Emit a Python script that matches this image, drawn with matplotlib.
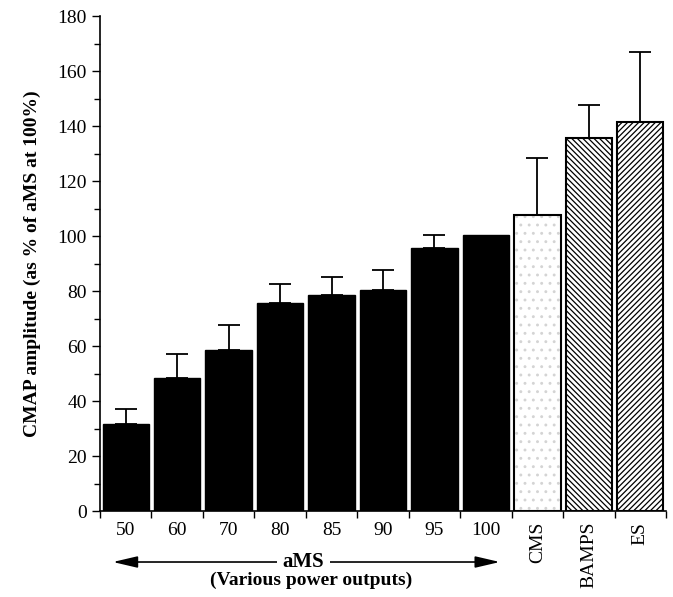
import numpy as np
import matplotlib
matplotlib.use("Agg")
import matplotlib.pyplot as plt

plt.rcParams['font.family'] = ['Liberation Serif', 'DejaVu Serif']
plt.rcParams['hatch.linewidth'] = 0.9

# data
labels = ["50", "60", "70", "80", "85", "90", "95", "100", "CMS", "BAMPS", "ES"]
values = [31.5, 48.5, 58.5, 75.5, 78.5, 80.5, 95.5, 100.5, 107.5, 135.5, 141.5]
errors = [5.5, 8.5, 9.0, 7.0, 6.5, 7.0, 5.0, 0.0, 21.0, 12.0, 25.5]

fig = plt.figure(figsize=(6.73, 5.97), dpi=100)
ax = fig.add_axes([0.1486, 0.144, 0.841, 0.829])

x = np.arange(len(values)) + 0.5
w = 0.9

# aMS bars - solid black
ax.bar(x[:8], values[:8], width=w, color="black", edgecolor="black", linewidth=1.0)
# CMS - light stipple
ax.bar(x[8], values[8], width=w, color="white", edgecolor="#d4d4d4", hatch="..", linewidth=0)
ax.bar(x[8], values[8], width=w, fill=False, edgecolor="black", linewidth=1.5)
# BAMPS / ES - hatched
ax.bar(x[9], values[9], width=w, color="white", edgecolor="black", hatch="\\\\\\\\\\\\", linewidth=1.5)
ax.bar(x[10], values[10], width=w, color="white", edgecolor="black", hatch="//////", linewidth=1.5)

# upward-only error bars
for xi, v, e in zip(x, values, errors):
    if e > 0:
        ax.errorbar(xi, v, yerr=[[0], [e]], fmt="none", ecolor="black",
                    elinewidth=1.3, capsize=8, capthick=1.3)

ax.set_xlim(0, 11)
ax.set_ylim(0, 180)
ax.set_yticks(np.arange(0, 181, 20))
ax.set_yticks(np.arange(10, 180, 20), minor=True)
ax.set_xticks(np.arange(0, 12))
ax.set_xticklabels([])
ax.tick_params(axis="y", which="major", length=6, width=1, labelsize=14, direction="out")
ax.tick_params(axis="y", which="minor", length=4, width=1, direction="out")
ax.tick_params(axis="x", which="major", length=5, width=1, direction="out")
for s in ["top", "right"]:
    ax.spines[s].set_visible(False)
ax.spines["left"].set_linewidth(1.2)
ax.spines["bottom"].set_linewidth(1.2)

ax.set_ylabel("CMAP amplitude (as % of aMS at 100%)", fontsize=14, fontweight="bold", labelpad=12)

# category labels
trans = ax.get_xaxis_transform()
for i, lab in enumerate(labels):
    if i < 8:
        ax.text(x[i], -0.022, lab, transform=trans, ha="center", va="top", fontsize=14)
    else:
        ax.text(x[i], -0.022, lab, transform=trans, ha="center", va="top", fontsize=14, rotation=90)

# aMS arrow and caption
ax.annotate("", xy=(0.25, -0.103), xytext=(7.77, -0.103), xycoords=trans, textcoords=trans,
            arrowprops=dict(arrowstyle="<|-|>,head_length=1.5,head_width=0.35", color="black",
                            lw=1.2, shrinkA=0, shrinkB=0), annotation_clip=False)
ax.text(3.95, -0.103, "aMS", transform=trans, ha="center", va="center", fontsize=15, fontweight="bold",
        bbox=dict(facecolor="white", edgecolor="none", pad=4))
ax.text(4.1, -0.141, "(Various power outputs)", transform=trans, ha="center", va="center",
        fontsize=14, fontweight="bold")

fig.savefig("out.png", dpi=100)
